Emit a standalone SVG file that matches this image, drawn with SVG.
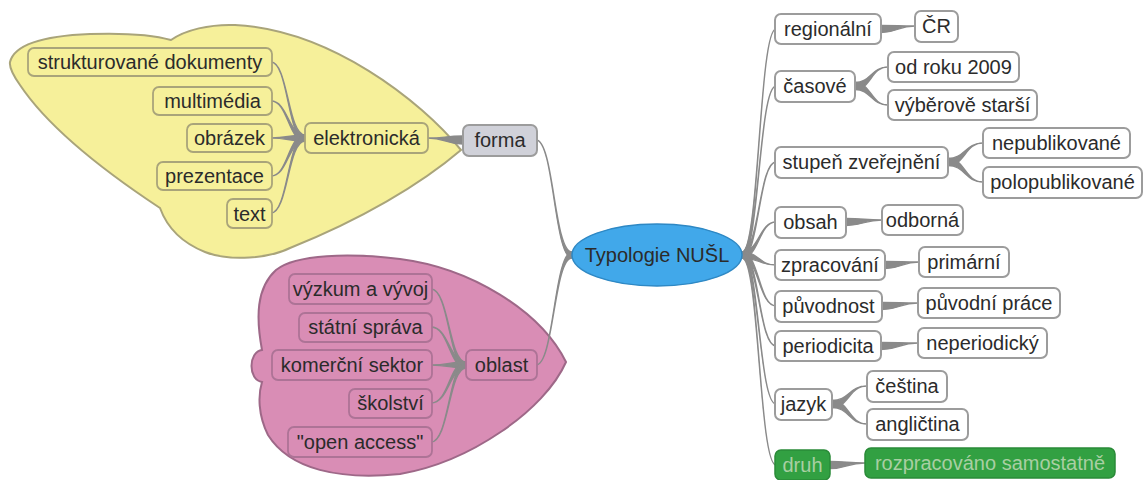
<svg xmlns="http://www.w3.org/2000/svg" width="1145" height="480" viewBox="0 0 1145 480">
<style>
text{font-family:"Liberation Sans",Arial,sans-serif;font-size:20px;fill:#2b2b2b;text-anchor:middle}
.b{fill:#fff;stroke:#9c9c9c;stroke-width:2}
.yb{fill:#f6f09a;stroke:#a9a47a;stroke-width:1.8}
.pb{fill:#d98db5;stroke:#ad7396;stroke-width:1.8}
.gb{fill:#32a042;stroke:#2a8a38;stroke-width:1.5}
.gt{fill:#a9cfa3}
.c path{fill:#8a8a8a;stroke:#8a8a8a;stroke-width:1.3;stroke-linejoin:round}
</style>
<g id="cloud-yellow">
<path d="M10,62 C14,46 40,36 90,34 C120,33 150,34 171,40 C185,30 210,24 235,25 C330,30 420,100 461,150 C420,185 360,220 290,248 C270,258 230,262 205,252 C185,244 168,230 160,208 C110,175 50,130 20,85 C13,75 9,68 10,62 Z" fill="#f6f09a" stroke="#a9a47a" stroke-width="2"/>
</g>
<g id="cloud-pink">
<path d="M262,350 C256,318 256,288 276,270 C296,254 350,253 400,259 C470,268 540,310 566,362 C545,410 470,462 400,474 C340,480 290,470 268,435 C258,415 258,395 262,382 C248,380 248,352 262,350 Z" fill="#d98db5" stroke="#9e6888" stroke-width="2"/>
</g>
<g id="connectors" class="c">
<path d="M742,252 C759,252 759,29 776,29 C759,29 759,258 742,258Z"/>
<path d="M742,252 C759,252 759,86 776,86 C759,86 759,258 742,258Z"/>
<path d="M742,252 C759,252 759,162 776,162 C759,162 759,258 742,258Z"/>
<path d="M742,252 C759,252 759,222 776,222 C759,222 759,258 742,258Z"/>
<path d="M742,252 C759,252 759,265 776,265 C759,265 759,258 742,258Z"/>
<path d="M742,252 C759,252 759,306 776,306 C759,306 759,258 742,258Z"/>
<path d="M742,252 C759,252 759,346 776,346 C759,346 759,258 742,258Z"/>
<path d="M742,252 C759,252 759,404 776,404 C759,404 759,258 742,258Z"/>
<path d="M742,252 C759,252 759,465 776,465 C759,465 759,258 742,258Z"/>
<path d="M572,252 C554,252 554,140 536,140 C554,140 554,258 572,258Z"/>
<path d="M572,252 C554,252 554,365 536,365 C554,365 554,258 572,258Z"/>
<path d="M463,136 C445,136 445,138 428,138 C445,138 445,144 463,144Z"/>
<path d="M305,135 C288,135 288,62 271,62 C288,62 288,141 305,141Z"/>
<path d="M305,135 C288,135 288,101 271,101 C288,101 288,141 305,141Z"/>
<path d="M305,135 C288,135 288,138 271,138 C288,138 288,141 305,141Z"/>
<path d="M305,135 C288,135 288,176 271,176 C288,176 288,141 305,141Z"/>
<path d="M305,135 C288,135 288,213 271,213 C288,213 288,141 305,141Z"/>
<path d="M466,362 C449,362 449,289 431,289 C449,289 449,368 466,368Z"/>
<path d="M466,362 C449,362 449,327 431,327 C449,327 449,368 466,368Z"/>
<path d="M466,362 C449,362 449,365 431,365 C449,365 449,368 466,368Z"/>
<path d="M466,362 C449,362 449,403 431,403 C449,403 449,368 466,368Z"/>
<path d="M466,362 C449,362 449,442 431,442 C449,442 449,368 466,368Z"/>
<path d="M881,25.5 C898,25.5 898,26 915,26 C898,26 898,32.5 881,32.5Z"/>
<path d="M855,82.5 C871,82.5 871,67 888,67 C871,67 871,89.5 855,89.5Z"/>
<path d="M855,82.5 C871,82.5 871,105 888,105 C871,105 871,89.5 855,89.5Z"/>
<path d="M948,158.5 C965,158.5 965,143 983,143 C965,143 965,165.5 948,165.5Z"/>
<path d="M948,158.5 C965,158.5 965,182 983,182 C965,182 965,165.5 948,165.5Z"/>
<path d="M846,218.5 C864,218.5 864,220 882,220 C864,220 864,225.5 846,225.5Z"/>
<path d="M885,261.5 C902,261.5 902,262 919,262 C902,262 902,268.5 885,268.5Z"/>
<path d="M882,302.5 C900,302.5 900,303 918,303 C900,303 900,309.5 882,309.5Z"/>
<path d="M881,342.5 C899,342.5 899,343 918,343 C899,343 899,349.5 881,349.5Z"/>
<path d="M832,400.5 C849,400.5 849,386 867,386 C849,386 849,407.5 832,407.5Z"/>
<path d="M832,400.5 C849,400.5 849,424 867,424 C849,424 849,407.5 832,407.5Z"/>
<path d="M830,461.5 C847,461.5 847,463 865,463 C847,463 847,468.5 830,468.5Z"/>
</g>
<g id="root"><ellipse cx="657" cy="255" rx="85" ry="31" fill="#41a8ea" stroke="#2e88c4" stroke-width="1.5"/><text x="657" y="262">Typologie NUŠL</text></g>
<g id="forma"><rect class="b" x="463" y="125" width="74" height="31" rx="6" style="fill:#d0d1d9"/><text x="500" y="147">forma</text></g>
<g id="elektronicka"><rect class="yb" x="305" y="123" width="123" height="30" rx="6"/><text x="366.5" y="145">elektronická</text></g>
<g id="strukturovane"><rect class="yb" x="28" y="48" width="244" height="28" rx="6"/><text x="150" y="69">strukturované dokumenty</text></g>
<g id="multimedia"><rect class="yb" x="153" y="87" width="119" height="28" rx="6"/><text x="212.5" y="108">multimédia</text></g>
<g id="obrazek"><rect class="yb" x="187" y="124" width="85" height="28" rx="6"/><text x="229.5" y="145">obrázek</text></g>
<g id="prezentace"><rect class="yb" x="157" y="162" width="115" height="28" rx="6"/><text x="214.5" y="183">prezentace</text></g>
<g id="text"><rect class="yb" x="227" y="199" width="45" height="29" rx="6"/><text x="249.5" y="220.5">text</text></g>
<g id="oblast"><rect class="pb" x="466" y="350" width="71" height="30" rx="6"/><text x="501.5" y="372">oblast</text></g>
<g id="vyzkum"><rect class="pb" x="289" y="274" width="143" height="30" rx="6"/><text x="360.5" y="296">výzkum a vývoj</text></g>
<g id="statni"><rect class="pb" x="299" y="313" width="133" height="29" rx="6"/><text x="365.5" y="334">státní správa</text></g>
<g id="komercni"><rect class="pb" x="272" y="350" width="160" height="30" rx="6"/><text x="352" y="372">komerční sektor</text></g>
<g id="skolstvi"><rect class="pb" x="349" y="389" width="83" height="29" rx="6"/><text x="390.5" y="410">školství</text></g>
<g id="openaccess"><rect class="pb" x="288" y="427" width="144" height="30" rx="6"/><text x="360" y="449">"open access"</text></g>
<g id="regionalni"><rect class="b" x="775" y="14" width="106" height="30" rx="6"/><text x="828" y="36">regionální</text></g>
<g id="cr"><rect class="b" x="915" y="11" width="43" height="31" rx="6"/><text x="936.5" y="33">ČR</text></g>
<g id="casove"><rect class="b" x="775" y="71" width="80" height="31" rx="6"/><text x="815" y="93">časové</text></g>
<g id="odroku"><rect class="b" x="888" y="52" width="131" height="30" rx="6"/><text x="953.5" y="74">od roku 2009</text></g>
<g id="vyberove"><rect class="b" x="888" y="90" width="149" height="30" rx="6"/><text x="962.5" y="112">výběrově starší</text></g>
<g id="stupen"><rect class="b" x="775" y="147" width="173" height="31" rx="6"/><text x="861.5" y="169">stupeň zveřejnění</text></g>
<g id="nepublikovane"><rect class="b" x="983" y="128" width="147" height="30" rx="6"/><text x="1056.5" y="150">nepublikované</text></g>
<g id="polopublikovane"><rect class="b" x="983" y="167" width="159" height="31" rx="6"/><text x="1062.5" y="189">polopublikované</text></g>
<g id="obsah"><rect class="b" x="775" y="207" width="71" height="31" rx="6"/><text x="810.5" y="229">obsah</text></g>
<g id="odborna"><rect class="b" x="882" y="205" width="81" height="30" rx="6"/><text x="922.5" y="227">odborná</text></g>
<g id="zpracovani"><rect class="b" x="775" y="250" width="110" height="30" rx="6"/><text x="830" y="272">zpracování</text></g>
<g id="primarni"><rect class="b" x="919" y="247" width="90" height="30" rx="6"/><text x="964" y="269">primární</text></g>
<g id="puvodnost"><rect class="b" x="775" y="291" width="107" height="31" rx="6"/><text x="828.5" y="313">původnost</text></g>
<g id="puvodniprace"><rect class="b" x="918" y="288" width="142" height="30" rx="6"/><text x="989" y="310">původní práce</text></g>
<g id="periodicita"><rect class="b" x="775" y="331" width="106" height="30" rx="6"/><text x="828" y="353">periodicita</text></g>
<g id="neperiodicky"><rect class="b" x="918" y="328" width="129" height="30" rx="6"/><text x="982.5" y="350">neperiodický</text></g>
<g id="jazyk"><rect class="b" x="775" y="389" width="57" height="31" rx="6"/><text x="803.5" y="411">jazyk</text></g>
<g id="cestina"><rect class="b" x="867" y="371" width="80" height="31" rx="6"/><text x="907" y="393">čeština</text></g>
<g id="anglictina"><rect class="b" x="867" y="409" width="101" height="31" rx="6"/><text x="917.5" y="431">angličtina</text></g>
<g id="druh"><rect class="gb" x="775" y="450" width="55" height="30" rx="6"/><text class="gt" x="802.5" y="472">druh</text></g>
<g id="rozpracovano"><rect class="gb" x="865" y="448" width="250" height="30" rx="6"/><text class="gt" x="990" y="470">rozpracováno samostatně</text></g>
</svg>
